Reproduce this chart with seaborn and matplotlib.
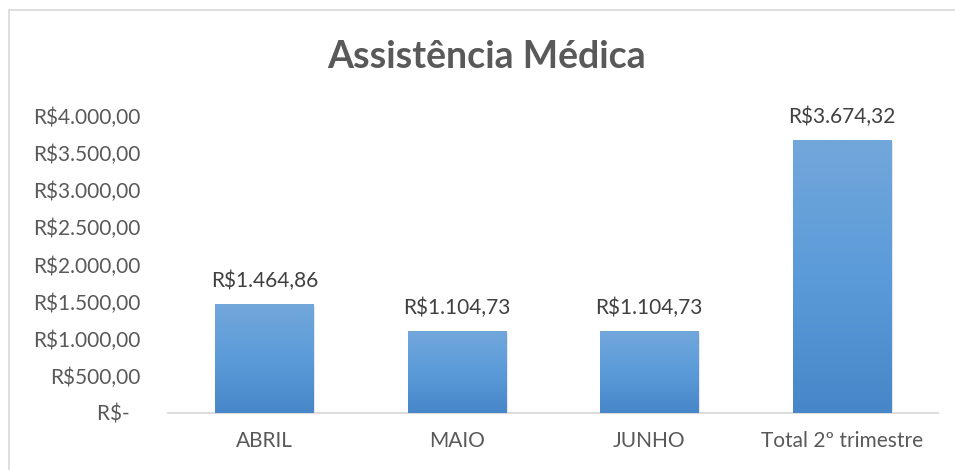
import matplotlib.pyplot as plt
import seaborn as sns
import numpy as np
from matplotlib.colors import LinearSegmentedColormap
from matplotlib import patheffects

categories = ["ABRIL", "MAIO", "JUNHO", "Total 2º trimestre"]
values = [1464.86, 1104.73, 1104.73, 3674.32]
yticks = [0, 500, 1000, 1500, 2000, 2500, 3000, 3500, 4000]


def brl(v):
    # formato monetário brasileiro, zero vira "R$-"
    if v == 0:
        return "R$-\u00a0\u00a0"
    s = f"{v:,.2f}".replace(",", "X").replace(".", ",").replace("X", ".")
    return "R$" + s


sns.set_style("white")
plt.rcParams["font.family"] = ["Lato", "DejaVu Sans"]

fig = plt.figure(figsize=(9.55, 4.7), dpi=100)
ax = fig.add_axes([0.176, 0.1213, 0.806, 0.6319])

sns.barplot(x=categories, y=values, color="#5b9bd5", width=0.51, ax=ax,
            saturation=1, zorder=2)

# gradiente vertical nas barras
cmap = LinearSegmentedColormap.from_list("grad", ["#4787c9", "#5b9bd9", "#72a7db"])
grad = np.linspace(0, 1, 256).reshape(-1, 1)
for bar in ax.patches:
    x0, y0 = bar.get_x(), bar.get_y()
    w, h = bar.get_width(), bar.get_height()
    bar.set_path_effects([patheffects.SimplePatchShadow(offset=(1.5, -1.5), shadow_rgbFace="#000000", alpha=0.12),
                          patheffects.Normal()])
    im = ax.imshow(grad, extent=[x0, x0 + w, y0, y0 + h], origin="lower",
                   cmap=cmap, aspect="auto", zorder=3)
    im.set_clip_path(bar)
    ax.annotate(brl(h), (x0 + w / 2, h), xytext=(0, 12), textcoords="offset points",
                ha="center", va="baseline", fontsize=15, color="#404040", zorder=4)

ax.set_xlim(-0.5, len(categories) - 0.5)
ax.set_ylim(0, 4000)
ax.set_yticks(yticks)
ax.set_yticklabels([brl(v) for v in yticks], fontsize=15, color="#595959")
ax.tick_params(axis="x", labelsize=15, labelcolor="#595959", length=0, pad=13)
ax.tick_params(axis="y", length=0, pad=20)
for side in ["top", "right", "left"]:
    ax.spines[side].set_visible(False)
ax.spines["bottom"].set_color("#d9d9d9")
ax.spines["bottom"].set_linewidth(1.3)

fig.text(0.510, 0.879, "Assistência Médica", ha="center", va="center",
         fontsize=27, fontweight="bold", color="#595959")

# moldura do gráfico (visível à esquerda e no topo)
fig.add_artist(plt.Line2D([0.0094, 0.0094], [0, 0.979], color="#d9d9d9", lw=1.2))
fig.add_artist(plt.Line2D([0.0094, 1], [0.979, 0.979], color="#d9d9d9", lw=1.2))

plt.savefig("out.png", dpi=100)
plt.close()
